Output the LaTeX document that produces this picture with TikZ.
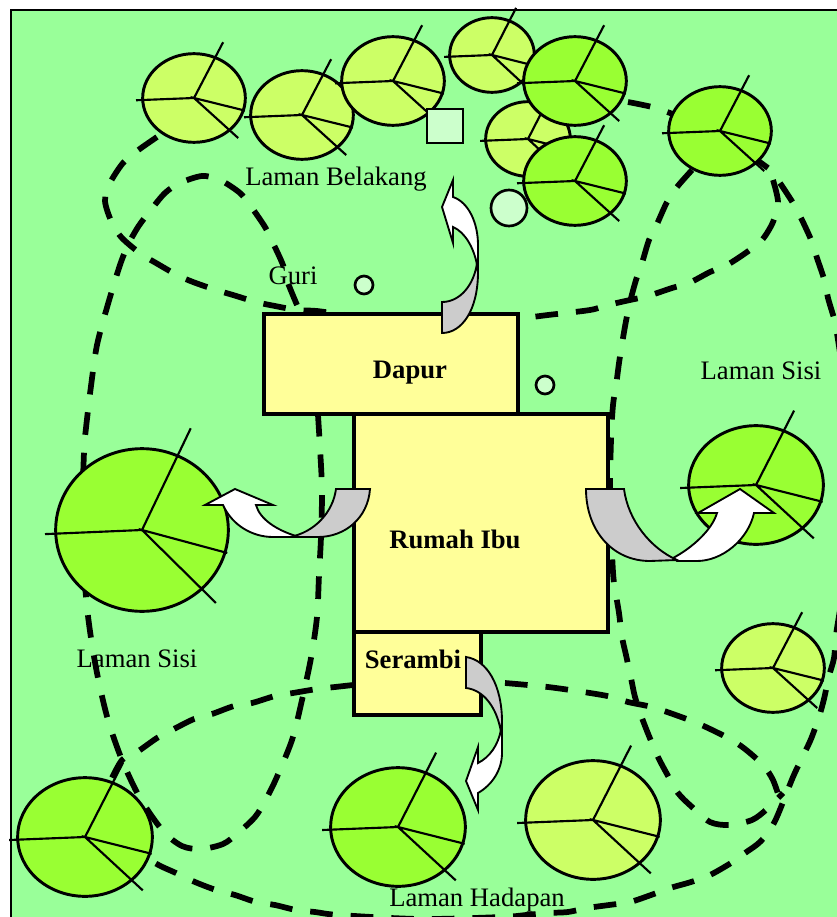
\documentclass[tikz,border=0pt]{standalone}
\usepackage{fontspec}
\setmainfont{Liberation Serif}
\usetikzlibrary{shapes.geometric}
\definecolor{yard}{HTML}{99FF99}
\definecolor{wall}{HTML}{FFFF99}
\definecolor{pale}{HTML}{CCFF66}
\definecolor{vivid}{HTML}{99FF33}
\definecolor{mint}{HTML}{CCFFCC}
\definecolor{shade}{HTML}{CCCCCC}
\tikzset{
  zone/.style={line width=4.3pt,dash pattern=on 17pt off 13.5pt,smooth,tension=0.5},
  room/.style={draw=black,line width=2.6pt,fill=wall,line join=miter},
  mark spot/.style={draw=black,line width=2pt,fill=mint},
  arrow white/.style={draw=black,line width=1.4pt,fill=white,line join=miter},
  arrow grey/.style={draw=black,line width=1.4pt,fill=shade,line join=miter},
  label text/.style={font=\fontsize{20}{24}\selectfont,inner sep=0pt},
  room text/.style={font=\fontsize{20}{24}\selectfont\bfseries,inner sep=0pt}
}
% name, cx, cy, rx, ry, colour
\newcommand\leafy[6]{%
  \begin{scope}[shift={(#2,#3)}]
    \node[draw=black,line width=2.2pt,fill=#6,ellipse,minimum width=#4*1.5pt-1pt,minimum height=#5*1.5pt-1pt,inner sep=0pt] (#1) at (0,0) {};
    \begin{scope}[x=#4*0.75pt,y=#5*-0.75pt,line width=1.6pt]
      \draw (0.56,-1.24) -- (0,0) -- (-1.115,0.05);
      \draw (0.98,0.28) -- (0,0) -- (0.85,0.89);
    \end{scope}
  \end{scope}}
\begin{document}
\begin{tikzpicture}[x=0.75pt,y=-0.75pt]
\useasboundingbox (0,0) rectangle (837,917);
\begin{scope}
\clip (0,0) rectangle (837,917);
\fill[white] (0,0) rectangle (837,917);
\draw[fill=yard,line width=2pt] (11,10) rectangle (860,940);

% back yard, left part
\draw[zone] plot coordinates {(157,137) (137,151) (123,163) (110,183) (105,201) (112,223) (122,238) (141,254) (156,263) (177,275) (193,282) (216,290) (233,295) (256,302) (275,306) (297,310) (317,311) (345,315)};
% back yard, right part
\draw[zone] plot coordinates {(628,102) (652,107) (670,113) (700,125)};
\draw[zone] plot coordinates {(750,155) (768,168)};
\draw[zone] plot coordinates {(773,180) (778,202) (773,222) (762,240) (747,252) (727,265) (710,272) (689,283) (672,288) (648,296) (630,300) (608,305) (590,310) (548,315) (525,318)};
% left side yard
\draw[zone] plot coordinates {(297,305) (288,283) (283,265) (273,243) (265,227) (252,208) (240,193) (220,180) (202,176) (180,183) (165,193) (150,211) (138,227) (128,245) (120,265) (108,304) (97,345) (91,386) (86,428) (84,452) (82,530) (86,597) (91,638) (98,678) (108,720) (122,760) (140,798) (163,831) (182,846) (201,849) (223,844) (238,833) (255,817) (265,801) (276,779) (292,740) (302,700) (311,658) (317,617) (319,575) (321,537) (322,490) (320,448) (318,415)};
% front yard, left part
\draw[zone] plot coordinates {(353,685) (335,687) (317,689) (293,693) (275,696) (252,703) (234,706) (212,714) (194,719) (172,730) (157,738) (137,752) (122,760) (110,782)};
% far right side
\draw[zone] plot coordinates {(780,183) (793,203) (802,220) (812,242) (817,258) (825,282) (828,298) (835,322) (838,340) (860,480)};
% front yard, outer edge
\draw[zone] plot coordinates {(840,610) (836,635) (834,658) (829,676) (824,699) (819,717) (811,739) (803,756) (793,777) (775,821) (761,841) (745,853) (731,863) (710,875) (691,882) (670,888) (651,895) (630,902) (609,905) (587,908) (568,912) (547,913) (526,915) (502,917) (420,919) (339,915) (315,912) (296,910) (275,905) (256,902) (235,895) (216,890) (195,882) (176,873) (155,863) (120,840)};
% right side yard inner edge
\draw[zone] plot coordinates {(692,170) (677,187) (667,202) (657,224) (649,240) (642,263) (636,280) (630,302) (626,321) (622,344) (619,363) (616,386) (613,405) (611,440) (610,500) (613,572) (616,595) (619,613) (622,637) (626,655) (631,678) (635,697) (642,718) (649,736) (658,757) (667,774) (678,793) (692,807) (710,822) (729,825) (752,820) (767,809) (783,793)};
% front yard, right part
\draw[zone] plot coordinates {(505,683) (548,687) (590,693) (612,697) (628,702) (652,707) (670,713) (692,721) (708,728) (730,739) (745,749) (763,765) (773,780) (780,800)};

% trees
\leafy{t1}{194}{98}{52}{45}{pale}
\leafy{t2}{302}{115}{52}{45}{pale}
\leafy{t3}{393}{81}{52}{45}{pale}
\node[mark spot,draw,minimum width=27pt,minimum height=25.5pt,inner sep=0pt] (well) at (445,126) {};
\leafy{t4}{492}{55}{43}{38}{pale}
\leafy{t6}{528}{139}{43}{38}{pale}
\leafy{t5}{575}{81}{52}{45}{vivid}
\leafy{t7}{575}{181}{52}{45}{vivid}
\leafy{t8}{720}{131}{52}{45}{vivid}
\leafy{t9}{142}{530}{87}{82}{vivid}
\leafy{t10}{756}{485}{68}{60}{vivid}
\leafy{t11}{773}{668}{52}{45}{pale}
\leafy{t12}{85}{837}{68}{60}{vivid}
\leafy{t13}{398}{827}{68}{60}{vivid}
\leafy{t14}{593}{820}{68}{60}{pale}

% small round spots
\node[mark spot,circle,minimum size=13.5pt,inner sep=0pt] (s1) at (364,285) {};
\node[mark spot,circle,minimum size=13.5pt,inner sep=0pt] (s2) at (545,385) {};
\node[mark spot,circle,minimum size=27pt,inner sep=0pt] (s3) at (509,208) {};

% house
\draw[room] (264,314) rectangle (518,414);
\draw[room] (354,414) rectangle (608,632);
\draw[room] (354,632) rectangle (481,715);
\node[room text] (dapur) at (410,373) {Dapur};
\node[room text] (ibu) at (455,539) {Rumah Ibu};
\node[room text] (serambi) at (413,659) {Serambi};

% top arrow
\draw[arrow white] (477,265) .. controls (474,248) and (465,232) .. (453,227) -- (453,243) -- (442,207) -- (453,180) -- (453,197) .. controls (468,202) and (478,222) .. (478,245) -- (478,272) -- cycle;
\draw[arrow grey] (442,302) .. controls (460,302) and (474,285) .. (477,263) -- (478,272) .. controls (478,310) and (462,333) .. (442,333) -- cycle;
% left arrow
\draw[arrow white] (293,535) .. controls (278,530) and (260,520) .. (256,505) -- (273,505) -- (235,489) -- (205,505) -- (223,505) .. controls (232,525) and (252,537) .. (273,537) -- (298,537) -- cycle;
\draw[arrow grey] (336,489) -- (370,489) .. controls (368,518) and (345,537) .. (318,537) -- (290,537) .. controls (315,532) and (333,512) .. (336,489) -- cycle;
% right arrow
\draw[arrow white] (673,558) .. controls (692,548) and (712,530) .. (717,513) -- (698,513) -- (740,489) -- (774,513) -- (754,513) .. controls (748,540) and (722,561) .. (697,561) -- (677,561) -- cycle;
\draw[arrow grey] (586,489) -- (624,489) .. controls (628,520) and (650,548) .. (677,560) -- (650,561) .. controls (612,561) and (586,530) .. (586,489) -- cycle;
% porch arrow
\draw[arrow white] (501,730) .. controls (498,745) and (490,757) .. (478,763) -- (478,747) -- (466,781) -- (478,810) -- (478,793) .. controls (492,785) and (502,770) .. (502,753) -- (502,722) -- cycle;
\draw[arrow grey] (466,657) .. controls (487,660) and (502,685) .. (502,722) -- (501,732) .. controls (497,708) and (484,690) .. (466,688) -- cycle;

% labels
\node[label text] (belakang) at (336,179) {Laman Belakang};
\node[label text] (guri) at (293,276) {Guri};
\node[label text] (sisikiri) at (137,659) {Laman Sisi};
\node[label text] (sisikanan) at (761,371) {Laman Sisi};
\node[label text] (hadapan) at (477,900) {Laman Hadapan};
\end{scope}
\end{tikzpicture}
\end{document}
